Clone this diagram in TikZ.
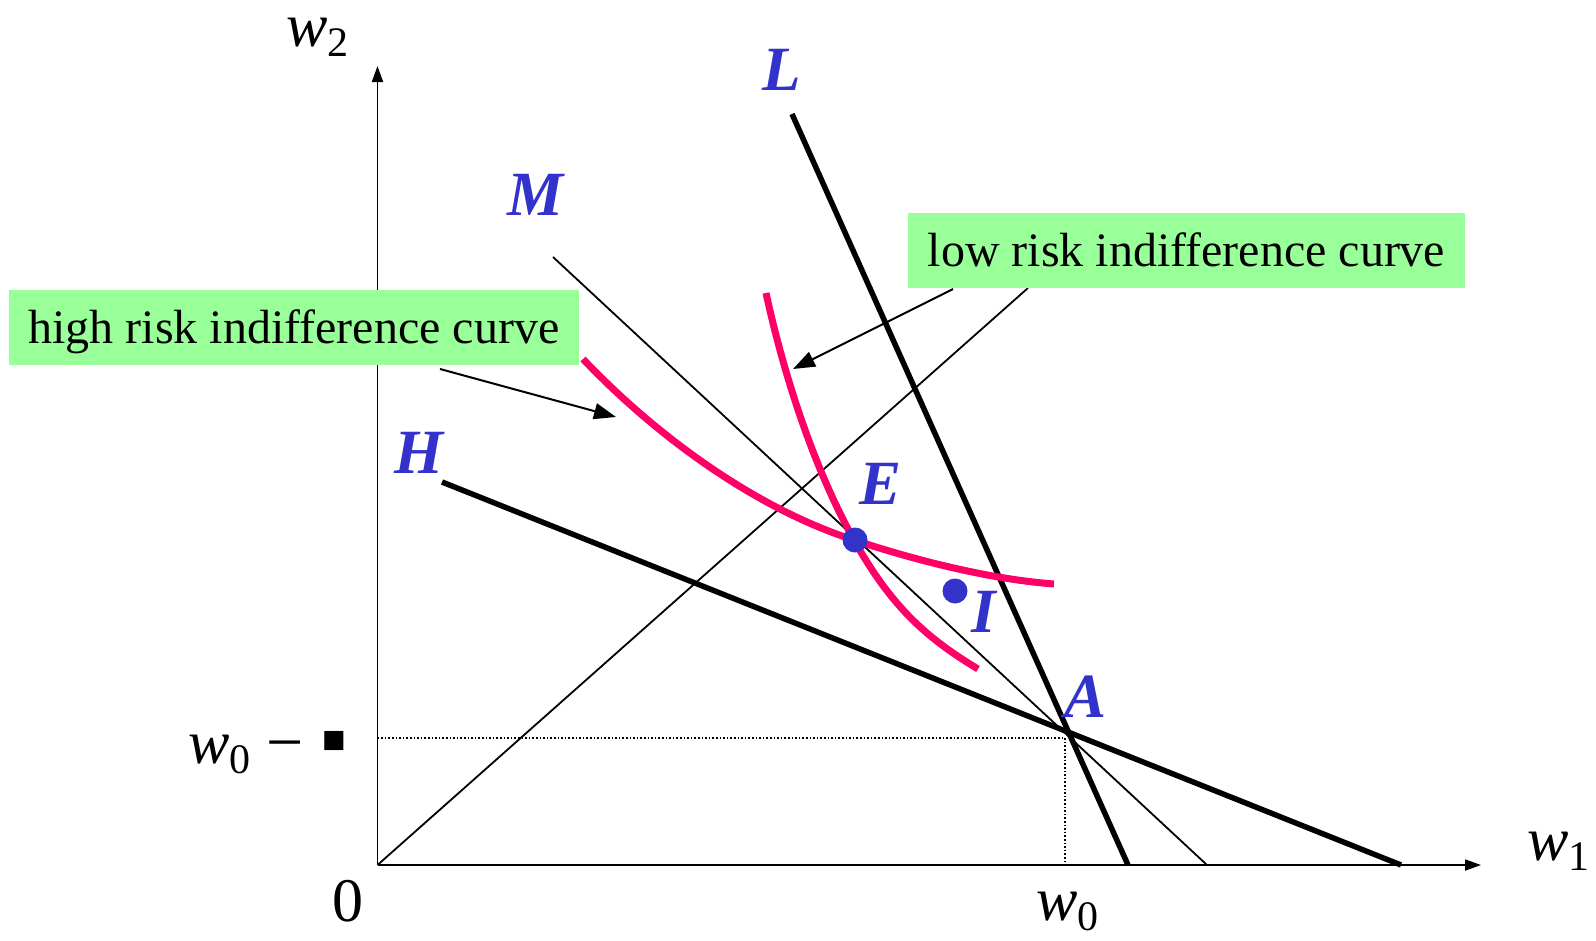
\documentclass[tikz,border=0pt]{standalone}
\usepackage{fontspec}
\setmainfont{Liberation Serif}
\newfontfamily\symfont{DejaVu Sans}
\usetikzlibrary{arrows.meta}
\definecolor{pinkc}{RGB}{255,0,102}
\definecolor{bluec}{RGB}{51,51,204}
\definecolor{greenc}{RGB}{153,255,153}
\newcommand{\lowsub}[1]{\raisebox{-10pt}{\fontsize{42}{42}\selectfont #1}}
\begin{document}
\begin{tikzpicture}[x=1pt,y=-1pt,
  thinline/.style={line width=1.8pt},
  thickline/.style={line width=5.5pt},
  icurve/.style={line width=7pt, draw=pinkc},
  lbl/.style={text=bluec, font=\fontsize{63}{63}\selectfont\bfseries\itshape, inner sep=0pt},
  mathlbl/.style={font=\fontsize{62}{62}\selectfont, inner sep=0pt, anchor=base west},
  greenbox/.style={fill=greenc, font=\fontsize{48}{48}\selectfont, inner sep=0pt,
     text height=40pt, text depth=8pt},
  ann/.style={line width=2pt, -{Triangle[length=22pt,width=16pt]}},
  axis/.style={line width=1.8pt, -{Triangle[length=16pt,width=11pt]}},
  dotpt/.style={circle, fill=bluec, minimum size=25pt, inner sep=0pt},
]
\useasboundingbox (0,0) rectangle (1596,940);
% key coordinates
\coordinate (O) at (377.5,865);
\coordinate (Ytop) at (377.5,66);
\coordinate (Xend) at (1481,865);
\coordinate (A) at (1065,738);
\coordinate (Lt) at (792,114);
\coordinate (Lb) at (1128,865);
\coordinate (Ht) at (442,482);
\coordinate (Hb) at (1401,865);
\coordinate (Mt) at (553,257);
\coordinate (Mb) at (1207,865);
\coordinate (Ct) at (1028,288);
\coordinate (HRs) at (583,359);
\coordinate (HRe) at (1054,584);
\coordinate (LRs) at (766,293);
\coordinate (LRe) at (978,669);
% axes
\draw[axis] (O) -- (Ytop);
\draw[axis] (O) -- (Xend);
% dotted guides
\draw[dotted, line width=1.6pt] (O |- A) -- (A) -- (A |- O);
% lines
\draw[thinline] (O) -- (Ct);
\draw[thinline] (Mt) -- (Mb);
\draw[thickline] (Lt) -- (Lb);
\draw[thickline] (Ht) -- (Hb);
% indifference curves
\draw[icurve] (HRs) .. controls (660,440) and (760,510) .. (854,540)
   .. controls (930,565) and (1000,580) .. (HRe);
\draw[icurve] (LRs) .. controls (785,380) and (815,470) .. (854,540)
   .. controls (893,610) and (930,640) .. (LRe);
% points
\node[dotpt] (E) at (855,540) {};
\node[dotpt] (I) at (955,591) {};
% blue labels
\node[lbl] (Llab) at (782,70) {L};
\node[lbl] (Mlab) at (536,195) {M};
\node[lbl] (Hlab) at (419,453) {H};
\node[lbl] (Elab) at (881,484) {E};
\node[lbl] (Ilab) at (984,612) {I};
\node[lbl] (Alab) at (1085,697) {A};
% axis labels
\node[mathlbl] (w2) at (286,46) {\textit{w}\lowsub{2}};
\node[mathlbl] (w1) at (1527,860) {\textit{w}\lowsub{1}};
\node[mathlbl, anchor=base] (zero) at (348,921) {0};
\node[mathlbl] (w0x) at (1036,920) {\textit{w}\lowsub{0}};
\node[mathlbl] (w0y) at (188,763) {\textit{w}\lowsub{0}};
\node[mathlbl, font=\fontsize{66}{66}\selectfont] (minus) at (266,764) {−};
\node[font=\symfont\fontsize{25}{25}\selectfont, inner sep=0pt] (sq) at (334,741) {■};
% green boxes
\node[greenbox, minimum width=570pt, minimum height=75pt] (hbox) at (294,327.5) {high risk indifference curve};
\node[greenbox, minimum width=557pt, minimum height=75pt] (lbox) at (1186.5,250.5) {low risk indifference curve};
% annotation arrows
\coordinate (ha1) at (440,369);
\coordinate (ha2) at (616,417);
\coordinate (la1) at (953,289);
\coordinate (la2) at (793,369);
\draw[ann] (ha1) -- (ha2);
\draw[ann] (la1) -- (la2);
\end{tikzpicture}
\end{document}
